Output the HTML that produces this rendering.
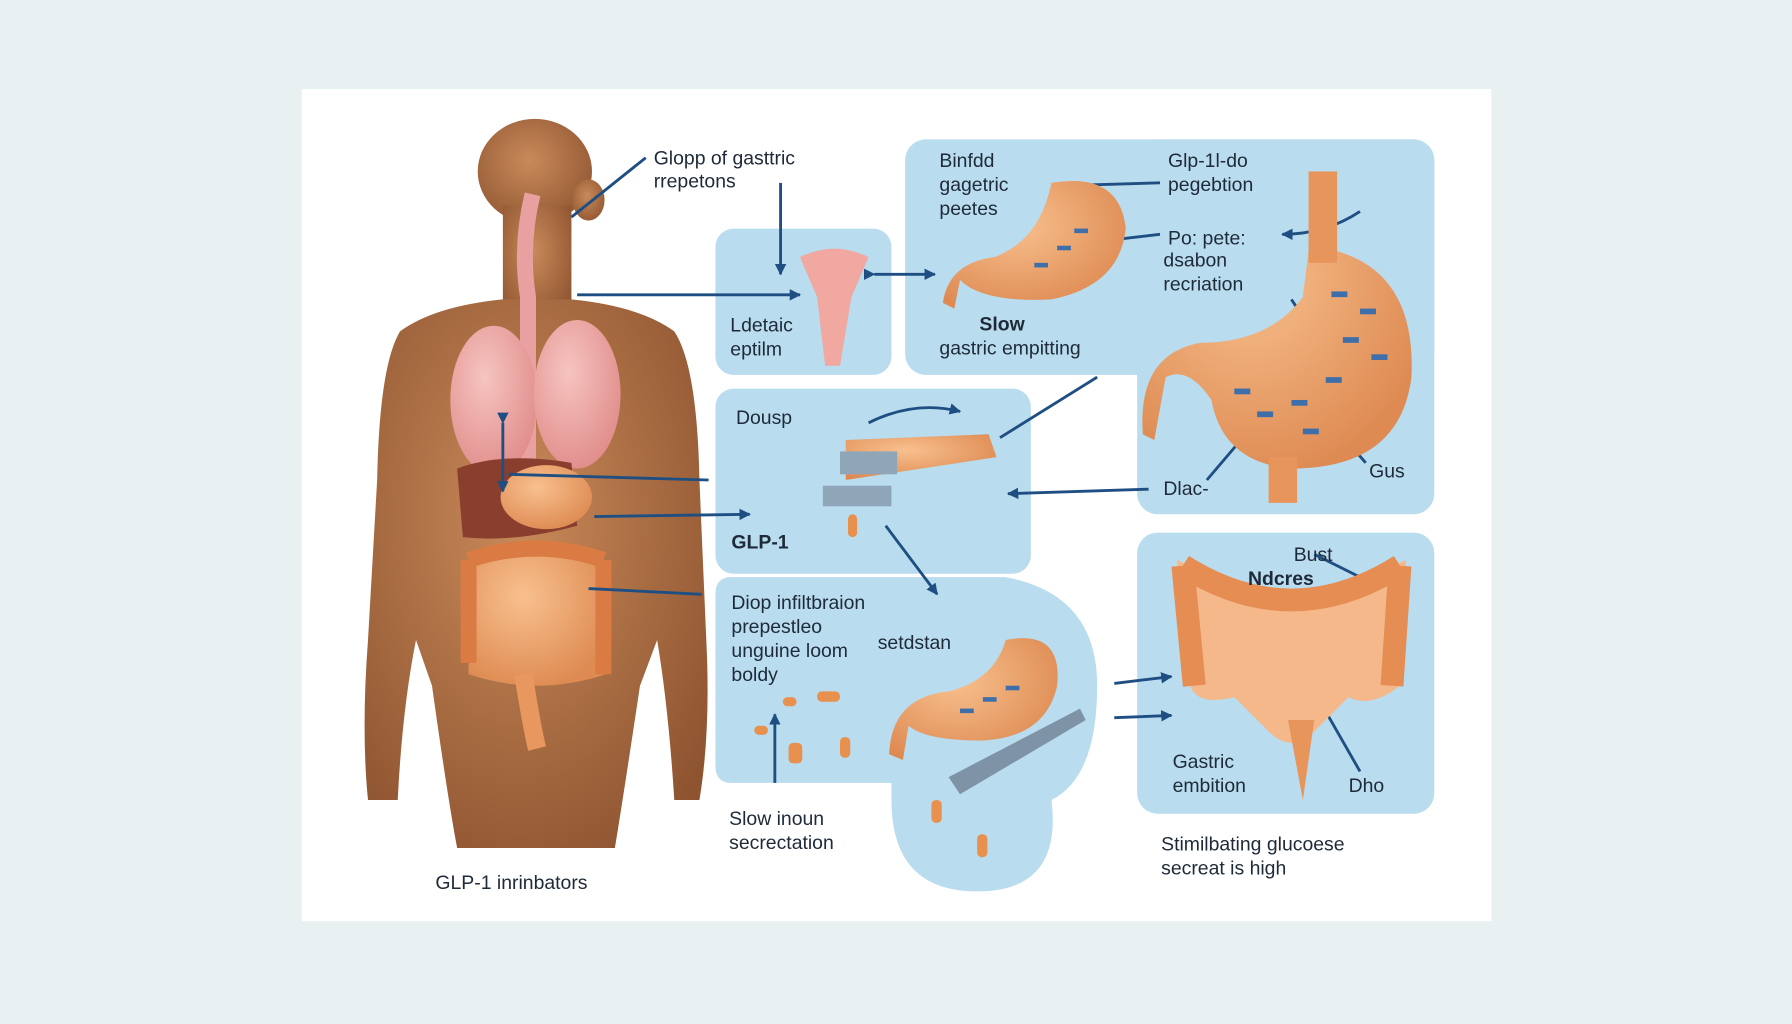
<!DOCTYPE html>
<html><head><meta charset="utf-8"><style>
html,body{margin:0;padding:0;background:#e8f0f2;}
svg{display:block;}
text{font-family:"Liberation Sans",sans-serif;fill:#1e2a38;}
</style></head><body>
<svg width="1792" height="1024" viewBox="0 0 1568 896" xmlns="http://www.w3.org/2000/svg">
<defs>
<radialGradient id="skin" cx="0.45" cy="0.4" r="0.7"><stop offset="0" stop-color="#c98a5a"/><stop offset="1" stop-color="#8e5430"/></radialGradient>
<radialGradient id="org" cx="0.4" cy="0.35" r="0.7"><stop offset="0" stop-color="#f8c08e"/><stop offset="1" stop-color="#de8a52"/></radialGradient>
<radialGradient id="lung" cx="0.4" cy="0.35" r="0.7"><stop offset="0" stop-color="#f6c4c0"/><stop offset="1" stop-color="#e08c8a"/></radialGradient>
<marker id="ah" viewBox="0 0 10 10" refX="9" refY="5" markerWidth="4" markerHeight="4" orient="auto"><path d="M0 0 L10 5 L0 10Z" fill="#1f4f82"/></marker>
</defs>
<rect width="1568" height="896" fill="#e8f0f2"/>
<rect x="264" y="78" width="1041" height="728" fill="#ffffff"/>
<g fill="#b9dcef">
<rect x="626" y="200" width="154" height="128" rx="16"/>
<rect x="792" y="122" width="463" height="206" rx="18"/>
<rect x="995" y="122" width="260" height="328" rx="18"/>
<rect x="626" y="340" width="276" height="162" rx="16"/>
<path d="M640 505 H880 Q960 520 960 600 Q960 680 920 700 Q930 780 855 780 Q780 780 780 700 V685 H640 Q626 685 626 670 V520 Q626 505 640 505Z"/>
<rect x="995" y="466" width="260" height="246" rx="18"/>
</g>
<g fill="url(#skin)">
<ellipse cx="468" cy="150" rx="50" ry="46"/>
<ellipse cx="515" cy="175" rx="14" ry="18"/>
<rect x="440" y="180" width="60" height="100"/>
<path d="M350 290 Q380 268 440 262 L500 262 Q560 268 590 290 Q610 320 612 420 L618 560 Q622 640 612 700 L590 700 Q585 620 575 560 L560 600 Q545 700 538 742 L400 742 Q392 700 378 600 L364 560 Q352 620 348 700 L322 700 Q316 640 322 560 L330 420 Q332 320 350 290Z"/>
</g>
<path d="M466 170 Q455 215 462 260 L462 430" stroke="#e8a0a0" stroke-width="14" fill="none"/>
<ellipse cx="432" cy="350" rx="38" ry="65" fill="url(#lung)"/>
<ellipse cx="505" cy="345" rx="38" ry="65" fill="url(#lung)"/>
<path d="M400 410 Q440 395 500 405 L505 460 Q450 475 405 470Z" fill="#8a3e2e"/>
<ellipse cx="478" cy="435" rx="40" ry="28" fill="url(#org)"/>
<path d="M410 490 Q470 470 528 490 L530 590 Q470 610 410 590Z" fill="url(#org)"/>
<path d="M410 490 Q470 470 528 490 M410 490 L410 580 M528 490 L528 590" stroke="#d97b42" stroke-width="14" fill="none"/>
<path d="M458 590 Q466 640 470 655" stroke="#e8975f" stroke-width="16" fill="none"/>
<g stroke="#1f4f82" stroke-width="2.5" fill="none">
<path d="M565 138 L500 190"/>
<path d="M683 160 V240" marker-end="url(#ah)"/>
<path d="M505 258 L700 258" marker-end="url(#ah)"/>
<path d="M765 240 L818 240" marker-end="url(#ah)" marker-start="url(#ah)"/>
<path d="M445 415 L620 420"/><path d="M520 452 L656 450" marker-end="url(#ah)"/>
<path d="M515 515 L614 520"/><path d="M875 383 L960 330"/>
<path d="M775 460 L820 520" marker-end="url(#ah)"/>
<path d="M1005 428 L882 432" marker-end="url(#ah)"/>
<path d="M975 598 L1025 592" marker-end="url(#ah)"/><path d="M975 628 L1025 626" marker-end="url(#ah)"/>
<path d="M440 370 V430" marker-start="url(#ah)" marker-end="url(#ah)"/>
<path d="M678 685 V625" marker-end="url(#ah)"/>
<path d="M945 162 L1015 160"/><path d="M955 212 L1015 205"/>
<path d="M1130 262 L1185 345"/><path d="M1056 420 L1090 380"/><path d="M1195 405 L1160 365"/>
<path d="M1150 485 L1190 505"/><path d="M1150 605 L1190 675"/>
<path d="M1190 185 Q1160 205 1122 205" marker-end="url(#ah)"/>
<path d="M760 370 Q800 350 840 360" marker-end="url(#ah)"/>
</g>
<path d="M700 225 Q730 210 760 225 L745 260 L735 320 L722 320 L715 260Z" fill="#f0a8a0"/>
<path d="M920 160 Q980 150 985 200 Q980 250 920 262 Q860 265 840 245 L835 270 L825 265 Q830 230 870 225 Q910 210 920 160Z" fill="url(#org)"/>
<path d="M1145 150 V215 Q1240 225 1235 330 Q1225 410 1130 410 Q1070 405 1060 350 Q1040 320 1020 330 L1010 385 L1000 380 Q995 310 1050 300 Q1110 300 1140 260 L1145 220 L1145 150Z" fill="url(#org)"/>
<rect x="1145" y="150" width="25" height="80" fill="#e8955c"/>
<rect x="1110" y="400" width="25" height="40" fill="#e8955c"/>
<path d="M880 560 Q930 550 925 600 Q915 645 860 648 Q810 648 795 635 L790 665 L778 660 Q780 610 830 605 Q870 595 880 560Z" fill="url(#org)"/>
<path d="M740 385 L865 380 L872 400 L740 420Z" fill="url(#org)"/>
<rect x="735" y="395" width="50" height="20" fill="#8fa6b8"/>
<rect x="720" y="425" width="60" height="18" fill="#8fa6b8"/>
<path d="M830 680 L945 620 L950 630 L840 695Z" fill="#7e93a6"/>
<g fill="#3f6fa8">
<rect x="1165" y="255" width="14" height="5"/><rect x="1190" y="270" width="14" height="5"/><rect x="1175" y="295" width="14" height="5"/><rect x="1200" y="310" width="14" height="5"/><rect x="1160" y="330" width="14" height="5"/><rect x="1080" y="340" width="14" height="5"/><rect x="1100" y="360" width="14" height="5"/><rect x="1130" y="350" width="14" height="5"/><rect x="1140" y="375" width="14" height="5"/>
<rect x="905" y="230" width="12" height="4"/><rect x="925" y="215" width="12" height="4"/><rect x="940" y="200" width="12" height="4"/>
<rect x="840" y="620" width="12" height="4"/><rect x="860" y="610" width="12" height="4"/><rect x="880" y="600" width="12" height="4"/>
</g>
<g fill="#e8914f"><rect x="685" y="610" width="12" height="8" rx="4"/><rect x="715" y="605" width="20" height="9" rx="4"/><rect x="660" y="635" width="12" height="8" rx="4"/><rect x="735" y="645" width="9" height="18" rx="4"/><rect x="690" y="650" width="12" height="18" rx="4"/><rect x="742" y="450" width="8" height="20" rx="4"/><rect x="815" y="700" width="9" height="20" rx="4"/><rect x="855" y="730" width="9" height="20" rx="4"/></g>
<path d="M1030 490 Q1130 540 1230 490 L1225 600 Q1200 620 1180 610 L1150 640 Q1130 660 1110 640 L1080 610 Q1040 620 1040 590Z" fill="#f4b88a"/>
<path d="M1035 495 L1045 600 M1225 495 L1218 600 M1035 495 Q1130 555 1225 495" stroke="#e58d52" stroke-width="20" fill="none"/>
<path d="M1127 630 L1140 700 L1150 630Z" fill="#e8955c"/>
<g font-size="17">
<text x="572" y="144">Glopp of gasttric</text><text x="572" y="164">rrepetons</text>
<text x="639" y="290">Ldetaic</text><text x="639" y="311">eptilm</text>
<text x="822" y="146">Binfdd</text><text x="822" y="167">gagetric</text><text x="822" y="188">peetes</text>
<text x="1022" y="146">Glp-1l-do</text><text x="1022" y="167">pegebtion</text>
<text x="1022" y="214">Po: pete:</text><text x="1018" y="233">dsabon</text><text x="1018" y="254">recriation</text>
<text x="857" y="289" font-weight="bold">Slow</text><text x="822" y="310">gastric empitting</text>
<text x="644" y="371">Dousp</text><text x="640" y="480" font-weight="bold">GLP-1</text>
<text x="1018" y="433">Dlac-</text><text x="1198" y="418">Gus</text>
<text x="640" y="533">Diop infiltbraion</text><text x="640" y="554">prepestleo</text><text x="640" y="575">unguine loom</text><text x="640" y="596">boldy</text>
<text x="768" y="568">setdstan</text>
<text x="1132" y="491">Bust</text><text x="1092" y="512" font-weight="bold">Ndcres</text>
<text x="1026" y="672">Gastric</text><text x="1026" y="693">embition</text><text x="1180" y="693">Dho</text>
<text x="638" y="722">Slow inoun</text><text x="638" y="743">secrectation</text>
<text x="1016" y="744">Stimilbating glucoese</text><text x="1016" y="765">secreat is high</text>
<text x="381" y="778">GLP-1 inrinbators</text>
</g>
</svg>
</body></html>
